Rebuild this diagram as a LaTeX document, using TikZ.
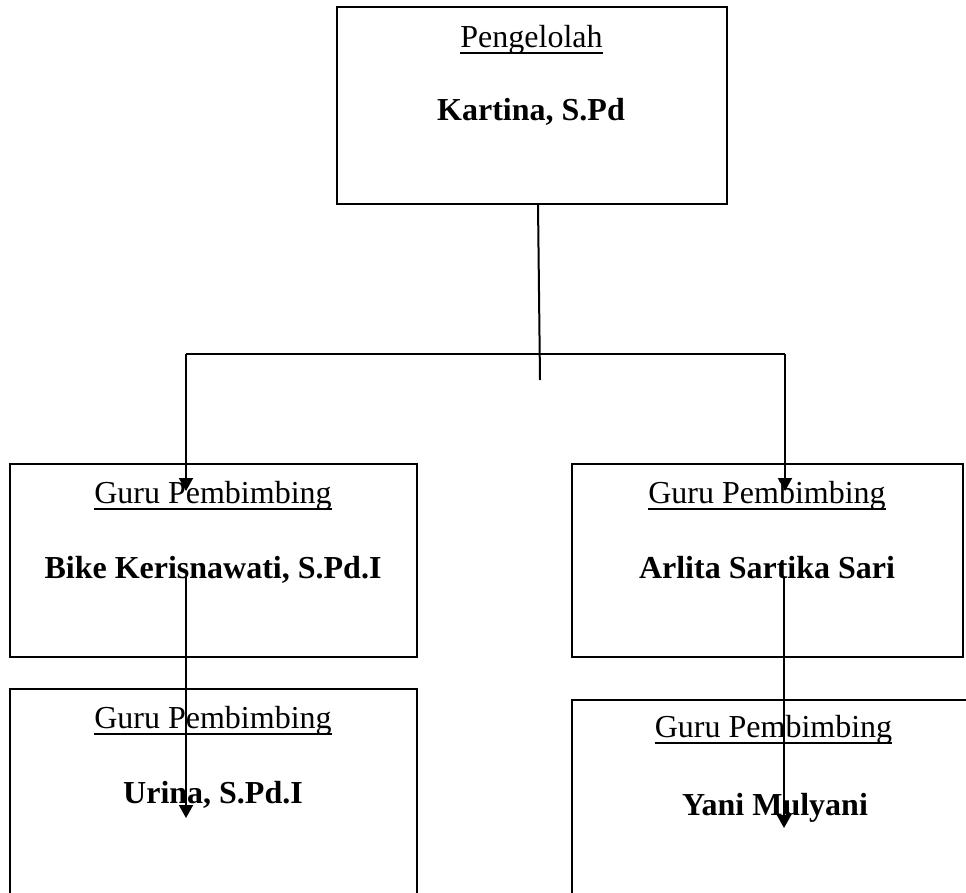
\documentclass[tikz,border=0pt]{standalone}
\usepackage{fontspec}
\setmainfont{Liberation Serif}
\usetikzlibrary{arrows.meta}
\begin{document}
\begin{tikzpicture}[x=1pt,y=-1pt,
  box/.style={draw=black,line width=2pt,inner sep=0pt},
  lbl/.style={anchor=base,inner sep=0pt,font=\fontsize{32}{38}\selectfont},
  nm/.style={anchor=base,inner sep=0pt,font=\fontsize{32}{38}\selectfont\bfseries},
  conn/.style={line width=2pt},
  arr/.style={line width=2pt,-{Triangle[length=13pt,width=14pt]}},
  ul/.style={line width=1.6pt}]
\useasboundingbox (0,0) rectangle (966,892);
\clip (0,0) rectangle (966,892);
% boxes
\node[box,minimum width=390pt,minimum height=197pt] (top) at (531.5,105.5) {};
\node[box,minimum width=407pt,minimum height=193pt] (l1) at (213.5,560.5) {};
\node[box,minimum width=391pt,minimum height=193pt] (r1) at (767.5,560.5) {};
\node[box,minimum width=407pt,minimum height=230pt] (l2) at (213.5,804) {};
\node[box,minimum width=410pt,minimum height=230pt] (r2) at (777,815) {};
% texts
\node[lbl] (t1) at (531.5,47) {Pengelolah};
\node[nm] (t2) at (531,120) {Kartina, S.Pd};
\node[lbl] (l1a) at (213,503) {Guru Pembimbing};
\node[nm] (l1b) at (213,578) {Bike Kerisnawati, S.Pd.I};
\node[lbl] (r1a) at (767,503) {Guru Pembimbing};
\node[nm] (r1b) at (767,578) {Arlita Sartika Sari};
\node[lbl] (l2a) at (213,728) {Guru Pembimbing};
\node[nm] (l2b) at (213,803) {Urina, S.Pd.I};
\node[lbl] (r2a) at (773.5,737) {Guru Pembimbing};
\node[nm] (r2b) at (775,815) {Yani Mulyani};
% underlines
\foreach \n in {t1,l1a,r1a,l2a,r2a}
  \draw[ul] ([yshift=-6pt]\n.base west) -- ([yshift=-6pt]\n.base east);
% connectors
\coordinate (s0) at (538,204);
\coordinate (e0) at (540,380);
\coordinate (jl) at (186,354);
\coordinate (jr) at (785,354);
\coordinate (tl) at (186,491);
\coordinate (tr) at (785,491);
\coordinate (sl) at (186,577);
\coordinate (el) at (186,818);
\coordinate (sr) at (784,578);
\coordinate (er) at (784,828);
\draw[conn] (s0) -- (e0);
\draw[conn] (jl) -- (jr);
\draw[arr] (jl) -- (tl);
\draw[arr] (jr) -- (tr);
\draw[arr] (sl) -- (el);
\draw[arr] (sr) -- (er);
\end{tikzpicture}
\end{document}
